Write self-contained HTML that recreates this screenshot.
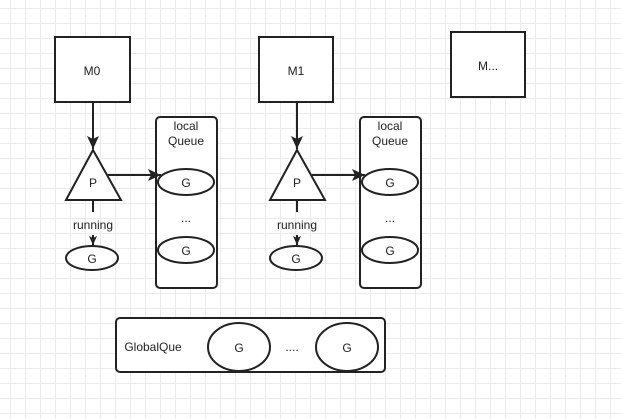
<!DOCTYPE html>
<html><head><style>
html,body{margin:0;padding:0;background:#fff;}
svg{display:block;}
</style></head><body>
<svg width="621" height="419" xmlns="http://www.w3.org/2000/svg" font-family="Liberation Sans, Arial, sans-serif" font-size="12">
<defs>
<pattern id="g" x="10" y="8" width="15" height="15" patternUnits="userSpaceOnUse">
<path d="M0 0.5H15M0.5 0V15" stroke="#ebebeb" stroke-width="1" fill="none"/>
</pattern>
<marker id="a" markerWidth="14" markerHeight="14" refX="13" refY="6" orient="auto" markerUnits="userSpaceOnUse">
<path d="M0,0 L13,6 L0,12 L3,6 Z" fill="#222"/>
</marker>
<marker id="s" markerWidth="10" markerHeight="10" refX="9" refY="4" orient="auto" markerUnits="userSpaceOnUse">
<path d="M0,0 L9,4 L0,8 L2,4 Z" fill="#222"/>
</marker>
</defs>
<rect width="621" height="419" fill="url(#g)"/>
<g stroke="#222" stroke-width="2" fill="#fff">
<rect x="55" y="37" width="75" height="65"/>
<rect x="259" y="37" width="74" height="65"/>
<rect x="451" y="32" width="74" height="65"/>
<polygon points="93,150 121,200 66,200"/>
<polygon points="297,150 325,200 270,200"/>
<rect x="156" y="117" width="61" height="171" rx="4"/>
<rect x="360" y="117" width="61" height="171" rx="4"/>
<ellipse cx="186" cy="182" rx="28" ry="13"/>
<ellipse cx="186" cy="250" rx="28" ry="13"/>
<ellipse cx="390" cy="182" rx="28" ry="13"/>
<ellipse cx="390" cy="250" rx="28" ry="13"/>
<ellipse cx="92" cy="258" rx="26" ry="12"/>
<ellipse cx="296" cy="258" rx="26" ry="12"/>
<rect x="116" y="318" width="269" height="54" rx="4"/>
<ellipse cx="239" cy="347" rx="31" ry="24"/>
<ellipse cx="347" cy="347" rx="31" ry="24"/>
</g>
<g stroke="#222" stroke-width="2" fill="none">
<path d="M93 102V149" marker-end="url(#a)"/>
<path d="M297 102V149" marker-end="url(#a)"/>
<path d="M108 175H161" marker-end="url(#a)"/>
<path d="M312 175H365" marker-end="url(#a)"/>
<path d="M93 201V212"/>
<path d="M297 201V212"/>
<path d="M93 235V245" marker-end="url(#s)"/>
<path d="M297 235V245" marker-end="url(#s)"/>
</g>
<g fill="#222" text-anchor="middle">
<text x="92" y="75">M0</text>
<text x="296" y="75">M1</text>
<text x="488" y="70">M...</text>
<text x="93" y="187">P</text>
<text x="297" y="187">P</text>
<text x="93" y="229">running</text>
<text x="297" y="229">running</text>
<text x="186" y="130">local</text>
<text x="186" y="145">Queue</text>
<text x="390" y="130">local</text>
<text x="390" y="145">Queue</text>
<text x="186" y="187">G</text>
<text x="186" y="222">...</text>
<text x="186" y="255">G</text>
<text x="390" y="187">G</text>
<text x="390" y="222">...</text>
<text x="390" y="255">G</text>
<text x="92" y="263">G</text>
<text x="296" y="263">G</text>
<text x="153" y="351">GlobalQue</text>
<text x="239" y="352">G</text>
<text x="292" y="351">....</text>
<text x="347" y="352">G</text>
</g>
</svg>
</body></html>
